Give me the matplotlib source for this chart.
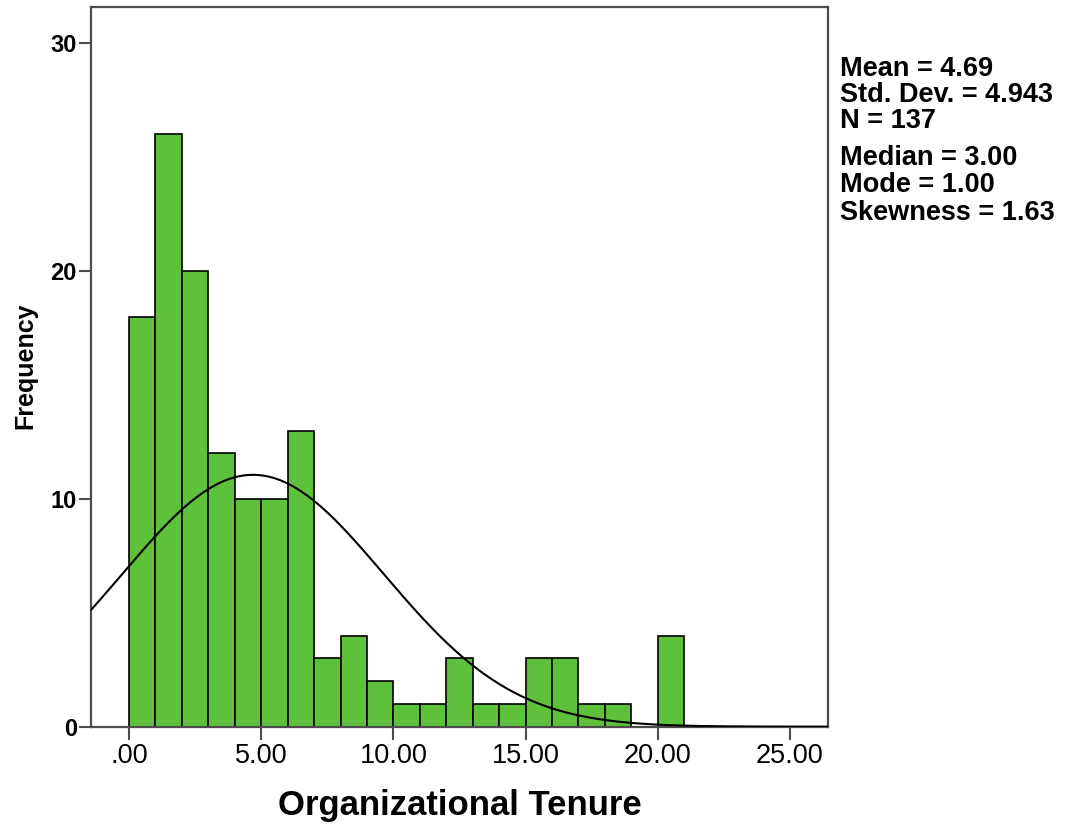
"""Histogram of organizational tenure with a fitted normal curve."""

import matplotlib

matplotlib.use("Agg")

import matplotlib.pyplot as plt
import numpy as np

plt.rcParams["font.family"] = ["Liberation Sans", "DejaVu Sans"]

# one-year bins, left edges and counts
bin_lefts = [0, 1, 2, 3, 4, 5, 6, 7, 8, 9, 10, 11, 12, 13, 14, 15, 16, 17, 18, 19, 20]
counts = [18, 26, 20, 12, 10, 10, 13, 3, 4, 2, 1, 1, 3, 1, 1, 3, 3, 1, 1, 0, 4]

MEAN = 4.69
STD = 4.943
N = 137

stats_top = ["Mean = 4.69", "Std. Dev. = 4.943", "N = 137"]
stats_bottom = ["Median = 3.00", "Mode = 1.00", "Skewness = 1.63"]

x_ticks = [0, 5, 10, 15, 20, 25]
x_tick_labels = [".00", "5.00", "10.00", "15.00", "20.00", "25.00"]
y_ticks = [0, 10, 20, 30]

BAR_COLOR = "#5dc13b"
FRAME_COLOR = "#4d4d4d"

W, H = 1071, 825
fig = plt.figure(figsize=(W / 100, H / 100), dpi=100)
ax = fig.add_axes([90.7 / W, 1 - 726.7 / H, (827.7 - 90.7) / W, (726.7 - 7.3) / H])

ax.bar(
    bin_lefts,
    counts,
    width=1.0,
    align="edge",
    color=BAR_COLOR,
    edgecolor="black",
    linewidth=1.2,
    zorder=2,
)

# normal curve scaled to counts per one-unit bin
xs = np.linspace(-1.45, 26.45, 400)
ys = N * 1.0 / (STD * np.sqrt(2 * np.pi)) * np.exp(-0.5 * ((xs - MEAN) / STD) ** 2)
ax.plot(xs, ys, color="black", linewidth=1.5, zorder=3)

ax.set_xlim(-1.45, 26.43)
ax.set_ylim(0, 31.58)

ax.set_xticks(x_ticks)
ax.set_xticklabels(x_tick_labels, fontsize=19.5)
ax.set_yticks(y_ticks)
ax.set_yticklabels([str(v) for v in y_ticks], fontsize=17, fontweight="bold")
ax.tick_params(axis="x", direction="out", length=9, width=1.5, color=FRAME_COLOR, pad=3)
ax.tick_params(axis="y", direction="out", length=9, width=1.5, color=FRAME_COLOR, pad=1)

for spine in ax.spines.values():
    spine.set_color(FRAME_COLOR)
    spine.set_linewidth(1.6)

fig.text(
    25 / W,
    1 - 366 / H,
    "Frequency",
    rotation=90,
    ha="center",
    va="center",
    fontsize=18,
    fontweight="bold",
)
fig.text(
    460 / W,
    1 - 815 / H,
    "Organizational Tenure",
    ha="center",
    va="baseline",
    fontsize=25,
    fontweight="bold",
)

for line, baseline in zip(stats_top, [76, 102, 128]):
    fig.text(840 / W, 1 - baseline / H, line, ha="left", va="baseline",
             fontsize=19.5, fontweight="bold")
for line, baseline in zip(stats_bottom, [165, 192, 220]):
    fig.text(840 / W, 1 - baseline / H, line, ha="left", va="baseline",
             fontsize=19.5, fontweight="bold")

fig.savefig("out.png", dpi=100)
